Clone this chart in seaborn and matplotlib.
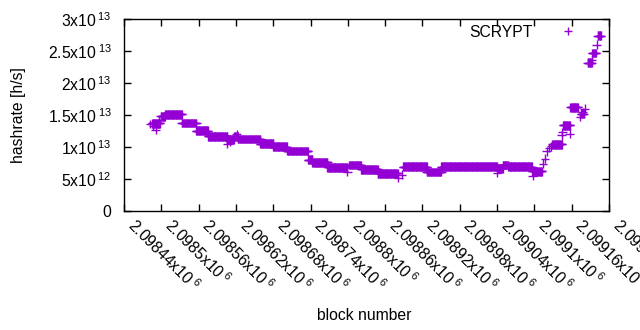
import numpy as np
import pandas as pd
import matplotlib
matplotlib.use("Agg")
import matplotlib.pyplot as plt
import seaborn as sns

# ---- data (hashrate in units of 1e13 h/s) ----
# runs of consecutive blocks with (nearly) constant hashrate
seg_start = [2098485, 2098499, 2098506, 2098533, 2098556, 2098575, 2098605, 2098617,
             2098623, 2098659, 2098680, 2098702, 2098736, 2098743, 2098767, 2098802,
             2098821, 2098848, 2098889, 2098927, 2098950, 2099041, 2099049, 2099058,
             2099096, 2099129, 2099146, 2099158, 2099175, 2099186, 2099193, 2099202]
seg_end   = [2098498, 2098506, 2098533, 2098556, 2098575, 2098606, 2098617, 2098623,
             2098659, 2098680, 2098702, 2098736, 2098743, 2098767, 2098799, 2098821,
             2098848, 2098880, 2098927, 2098950, 2099040, 2099049, 2099058, 2099096,
             2099112, 2099144, 2099157, 2099170, 2099179, 2099192, 2099199, 2099207]
seg_hash  = [1.37, 1.48, 1.51, 1.375, 1.255, 1.17, 1.12, 1.16,
             1.125, 1.05, 1.005, 0.938, 0.80, 0.76, 0.683, 0.72,
             0.65, 0.59, 0.69, 0.61, 0.69, 0.67, 0.72, 0.695,
             0.62, 1.04, 1.34, 1.62, 1.52, 2.32, 2.47, 2.74]
# isolated blocks
single_block = [2098482, 2098487, 2098491, 2098496, 2098606, 2098610, 2098621, 2098799,
                2098881, 2098887, 2099040, 2099097, 2099114, 2099117, 2099120, 2099124,
                2099127, 2099144, 2099145, 2099157, 2099174, 2099178, 2099181, 2099192,
                2099200]
single_hash  = [1.36, 1.33, 1.27, 1.42, 1.05, 1.09, 1.20, 0.61,
                0.52, 0.565, 0.60, 0.55, 0.74, 0.82, 0.93, 0.985,
                1.01, 1.18, 1.23, 1.21, 1.47, 1.545, 1.60, 2.36,
                2.60]

x_ticks = [2098440 + 60 * i for i in range(14)]
x_tick_labels = ["2.09844", "2.0985", "2.09856", "2.09862", "2.09868", "2.09874", "2.0988",
                 "2.09886", "2.09892", "2.09898", "2.09904", "2.0991", "2.09916", "2.09922"]
y_ticks = [0, 0.5e13, 1.0e13, 1.5e13, 2.0e13, 2.5e13, 3.0e13]
y_tick_mant = ["0", "5", "1", "1.5", "2", "2.5", "3"]
y_tick_exp = [None, "12", "13", "13", "13", "13", "13"]


def sci(m, e):
    if e is None:
        return m
    return r"$\mathregular{%sx10\,}^{\mathregular{%s}}$" % (m, e)


# ---- build table ----
blocks, hashes = [], []
for a, b, h in zip(seg_start, seg_end, seg_hash):
    for blk in range(a, b + 1):
        blocks.append(blk)
        hashes.append(h * 1e13)
for blk, h in zip(single_block, single_hash):
    blocks.append(blk)
    hashes.append(h * 1e13)
df = pd.DataFrame({"block": blocks, "hashrate": hashes, "algo": "SCRYPT"})

plt.rcParams["font.family"] = ["Liberation Sans", "DejaVu Sans"]
plt.rcParams["mathtext.fontset"] = "custom"
plt.rcParams["mathtext.rm"] = "Liberation Sans"
plt.rcParams["font.size"] = 11.3

fig = plt.figure(figsize=(6.4, 3.3), dpi=100)
ax = fig.add_axes([124 / 640, 1 - 211 / 330, (609 - 124) / 640, (211 - 19) / 330])

sns.scatterplot(data=df, x="block", y="hashrate", hue="algo", palette=["#9400d3"],
                marker="+", s=40, linewidth=1.0, ax=ax, legend=True)

ax.set_xlim(x_ticks[0], x_ticks[-1])
ax.set_ylim(0, 3e13)
ax.set_xticks(x_ticks)
ax.set_xticklabels([sci(t, "6") for t in x_tick_labels],
                   rotation=-45, ha="left", va="bottom", rotation_mode="anchor")
ax.set_yticks(y_ticks)
ax.set_yticklabels([sci(m, e) for m, e in zip(y_tick_mant, y_tick_exp)])
ax.tick_params(direction="in", length=5, width=1, top=True, right=True, color="black")
ax.tick_params(axis="y", pad=9)
ax.tick_params(axis="x", pad=13)
for sp in ax.spines.values():
    sp.set_linewidth(1)
    sp.set_color("black")

ax.set_xlabel("block number")
ax.set_ylabel("hashrate [h/s]")
ax.xaxis.set_label_coords(0.495, -0.505)
ax.yaxis.set_label_coords(-0.202, 0.5)

handles, labels = ax.get_legend_handles_labels()
ax.legend(handles, ["SCRYPT"], loc="upper right", markerfirst=False, frameon=False,
          handlelength=2.5, handletextpad=1.0, borderaxespad=0.2,
          bbox_to_anchor=(0.975, 1.02))

fig.savefig("out.png", dpi=100)
